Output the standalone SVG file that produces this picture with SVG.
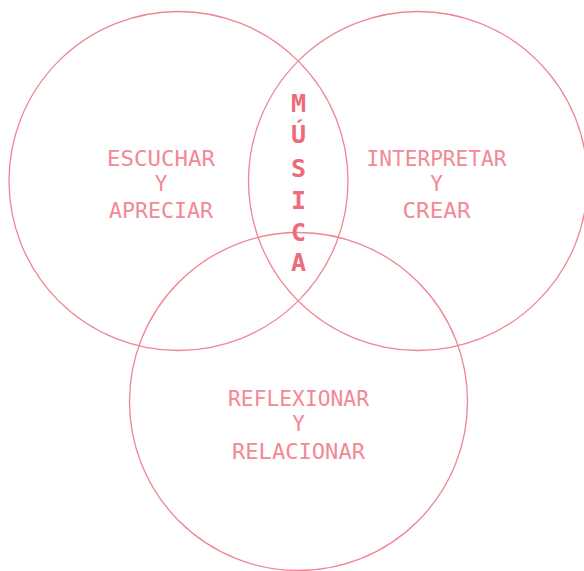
<svg xmlns="http://www.w3.org/2000/svg" width="584" height="571" viewBox="0 0 584 571">
<style>
.c{fill:none;stroke:#f08592;stroke-width:1.3}
.t{font-family:"DejaVu Sans Mono","Liberation Mono",monospace;font-size:21px;fill:#f28995;text-anchor:middle}
.m{font-family:"DejaVu Sans Mono","Liberation Mono",monospace;font-size:25px;font-weight:bold;fill:#ec6b7c;text-anchor:middle}
</style>
<rect width="584" height="571" fill="#ffffff"/>
<g id="escuchar">
<circle class="c" cx="178.5" cy="181" r="169.5"/>
<text class="t" x="161" y="166" textLength="108" lengthAdjust="spacingAndGlyphs">ESCUCHAR</text>
<text class="t" x="161" y="191">Y</text>
<text class="t" x="161" y="218" textLength="104" lengthAdjust="spacingAndGlyphs">APRECIAR</text>
</g>
<g id="interpretar">
<circle class="c" cx="418" cy="181" r="169.5"/>
<text class="t" x="436.5" y="166" textLength="140" lengthAdjust="spacingAndGlyphs">INTERPRETAR</text>
<text class="t" x="436.5" y="191">Y</text>
<text class="t" x="436.5" y="218" textLength="68" lengthAdjust="spacingAndGlyphs">CREAR</text>
</g>
<g id="reflexionar">
<circle class="c" cx="298.5" cy="401.5" r="169"/>
<text class="t" x="298.5" y="406" textLength="141" lengthAdjust="spacingAndGlyphs">REFLEXIONAR</text>
<text class="t" x="298.5" y="431">Y</text>
<text class="t" x="298.5" y="459" textLength="133" lengthAdjust="spacingAndGlyphs">RELACIONAR</text>
</g>
<g id="musica">
<text class="m" x="298.5" y="112">M</text>
<text class="m" x="298.5" y="143">Ú</text>
<text class="m" x="298.5" y="177">S</text>
<text class="m" x="298.5" y="209">I</text>
<text class="m" x="298.5" y="241">C</text>
<text class="m" x="298.5" y="271">A</text>
</g>
<g id="connectors"></g>
</svg>
